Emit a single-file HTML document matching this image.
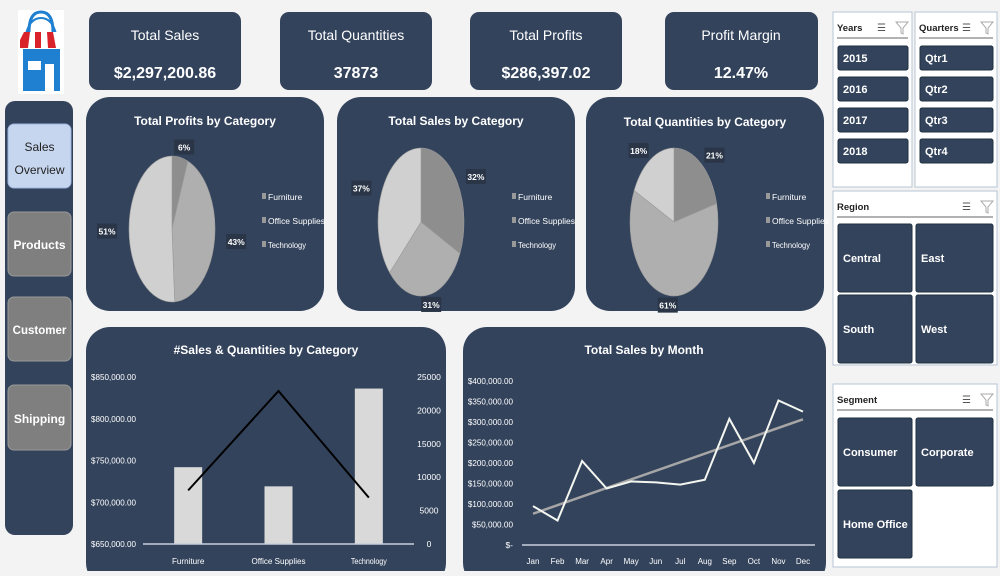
<!DOCTYPE html>
<html><head><meta charset="utf-8">
<style>
html,body{margin:0;padding:0;}
body{width:1000px;height:571px;overflow:hidden;background:#f3f3f3;font-family:"Liberation Sans",sans-serif;}
svg text{font-family:"Liberation Sans",sans-serif;}
</style></head>
<body>
<svg id="dash" width="1000" height="571" viewBox="0 0 1000 571" xmlns="http://www.w3.org/2000/svg">
  <rect x="0" y="0" width="1000" height="571" fill="#f3f3f3"/>
  <g>
    <rect x="18" y="10" width="46" height="84" fill="#ffffff"/>
    <path d="M29 32 Q29 12 41 12 Q53 12 53 32" fill="none" stroke="#1f7fd0" stroke-width="3"/>
    <path d="M26 34 Q30 18 41 18 Q52 18 56 34" fill="none" stroke="#1f7fd0" stroke-width="2"/>
    <rect x="23" y="49" width="37" height="42" fill="#1f7fd0"/>
    <rect x="28" y="61" width="13" height="9" fill="#ffffff"/>
    <rect x="45" y="64" width="9" height="27" fill="#ffffff"/>
    <path d="M21 40 L24 32 L60 32 L63 40 Z" fill="#ffffff"/>
    <path d="M20 40 L24 32 L30 32 L28 48 L20 48 Z M35 32 L41 32 L41 48 L35 48 Z M47 32 L53 32 L56 48 L48 48 Z" fill="#d9222a"/>
  </g>
  <rect x="5" y="101" width="68" height="434" rx="10" fill="#33435c"/>
  <g>
    <rect x="8" y="124" width="63" height="64" rx="6" fill="#c6d6ef" stroke="#9fb6dc"/>
    <text x="39.5" y="151" text-anchor="middle" font-size="12" fill="#222">Sales</text>
    <text x="39.5" y="174" text-anchor="middle" font-size="12" fill="#222">Overview</text>
  </g>
  <g>
    <rect x="8" y="212" width="63" height="64" rx="6" fill="#7f7f7f" stroke="#999"/>
    <text x="39.5" y="249" text-anchor="middle" font-size="12" font-weight="bold" fill="#fff">Products</text>
  </g>
  <g>
    <rect x="8" y="297" width="63" height="64" rx="6" fill="#7f7f7f" stroke="#999"/>
    <text x="39.5" y="334" text-anchor="middle" font-size="11.5" font-weight="bold" fill="#fff">Customer</text>
  </g>
  <g>
    <rect x="8" y="385" width="63" height="65" rx="6" fill="#7f7f7f" stroke="#999"/>
    <text x="39.5" y="423" text-anchor="middle" font-size="12" font-weight="bold" fill="#fff">Shipping</text>
  </g>
  <g>
    <rect x="89" y="12" width="152" height="78" rx="9" fill="#33435c"/>
    <text x="165" y="40" text-anchor="middle" font-size="14" fill="#fff">Total Sales</text>
    <text x="165" y="78" text-anchor="middle" font-size="16" font-weight="bold" fill="#fff">$2,297,200.86</text>
  </g>
  <g>
    <rect x="280" y="12" width="152" height="78" rx="9" fill="#33435c"/>
    <text x="356" y="40" text-anchor="middle" font-size="14" fill="#fff">Total Quantities</text>
    <text x="356" y="78" text-anchor="middle" font-size="16" font-weight="bold" fill="#fff">37873</text>
  </g>
  <g>
    <rect x="470" y="12" width="152" height="78" rx="9" fill="#33435c"/>
    <text x="546" y="40" text-anchor="middle" font-size="14" fill="#fff">Total Profits</text>
    <text x="546" y="78" text-anchor="middle" font-size="16" font-weight="bold" fill="#fff">$286,397.02</text>
  </g>
  <g>
    <rect x="665" y="12" width="153" height="78" rx="9" fill="#33435c"/>
    <text x="741" y="40" text-anchor="middle" font-size="14" fill="#fff">Profit Margin</text>
    <text x="741" y="78" text-anchor="middle" font-size="16" font-weight="bold" fill="#fff">12.47%</text>
  </g>
  <rect x="86" y="97" width="238" height="214" rx="24" fill="#33435c"/>
  <rect x="337" y="97" width="238" height="214" rx="24" fill="#33435c"/>
  <rect x="586" y="97" width="238" height="214" rx="24" fill="#33435c"/>
  <rect x="86" y="327" width="360" height="260" rx="24" fill="#33435c"/>
  <rect x="463" y="327" width="363" height="260" rx="24" fill="#33435c"/>
  <text x="205" y="125" text-anchor="middle" font-size="12" font-weight="bold" fill="#fff">Total Profits by Category</text>
  <text x="456" y="125" text-anchor="middle" font-size="12" font-weight="bold" fill="#fff">Total Sales by Category</text>
  <text x="705" y="126" text-anchor="middle" font-size="12" font-weight="bold" fill="#fff">Total Quantities by Category</text>
  <text x="266" y="354" text-anchor="middle" font-size="12" font-weight="bold" fill="#fff">#Sales &amp; Quantities by Category</text>
  <text x="644" y="354" text-anchor="middle" font-size="12" font-weight="bold" fill="#fff">Total Sales by Month</text>
  <g id="pies"></g>
  <g id="bar"></g>
  <g id="line"></g>
  <g id="slicers"></g>
</svg>
<script>
const NS="http://www.w3.org/2000/svg";
const categories=["Furniture","Office Supplies","Technology"];
const profitShare=[6,43,51];
const salesShare=[32,31,37];
const qtyShare=[21,61,18];
const catSales=[742000,719047,836154];
const catQty=[8028,22906,6939];
const salesTicks=[650000,700000,750000,800000,850000];
const salesTickLabels=["$650,000.00","$700,000.00","$750,000.00","$800,000.00","$850,000.00"];
const qtyTicks=[0,5000,10000,15000,20000,25000];
const months=["Jan","Feb","Mar","Apr","May","Jun","Jul","Aug","Sep","Oct","Nov","Dec"];
const monthSales=[94925,59751,205005,137762,155028,152718,147238,159044,307649,200322,352461,325293];
const monthTicks=[0,50000,100000,150000,200000,250000,300000,350000,400000];
const monthTickLabels=["$-","$50,000.00","$100,000.00","$150,000.00","$200,000.00","$250,000.00","$300,000.00","$350,000.00","$400,000.00"];
const sliceColors=["#8e8e8e","#afafaf","#d0d0d0"];

function el(tag,attrs,parent,txt){const e=document.createElementNS(NS,tag);for(const k in attrs)e.setAttribute(k,attrs[k]);if(txt!==undefined)e.textContent=txt;parent.appendChild(e);return e;}

const pies=document.getElementById('pies');
function drawPie(vals,cx,cy,rx,ry,legX,name){
  const g=el('g',{},pies);
  
  
  const tot=vals.reduce((a,b)=>a+b,0);
  let a0=0;
  vals.forEach((v,i)=>{
    const a1=a0+v/tot*2*Math.PI;
    const x0=cx+rx*Math.sin(a0),y0=cy-ry*Math.cos(a0),x1=cx+rx*Math.sin(a1),y1=cy-ry*Math.cos(a1);
    const large=(a1-a0)>Math.PI?1:0;
    const p=el('path',{d:`M${cx} ${cy} L${x0} ${y0} A${rx} ${ry} 0 ${large} 1 ${x1} ${y1} Z`,fill:sliceColors[i],stroke:'#9a9a9a','stroke-width':0.6},g);
    
    
    const am=(a0+a1)/2;
    const lx=cx+(rx+22)*Math.sin(am),ly=cy-(ry+10)*Math.cos(am);
    const lb=el('g',{},g);
    
    
    el('rect',{x:lx-10,y:ly-8,width:20,height:15,fill:'#2a3547'},lb);
    el('text',{x:lx,y:ly+3,'text-anchor':'middle','font-size':8.5,'font-weight':'bold',fill:'#fff'},lb,v+'%');
    a0=a1;
  });
  categories.forEach((c,i)=>{
    const lg=el('g',{},g);
    
    
    el('rect',{x:legX,y:193+i*24,width:4,height:6,fill:'#999'},lg);
    el('text',{x:legX+6,y:200+i*24,'font-size':8,fill:'#fff',textLength:c.length*3.8,lengthAdjust:'spacingAndGlyphs'},lg,c);
  });
}
drawPie(profitShare,172,229,43,73,262,'profits-pie');
drawPie(salesShare,421,222,43,74,512,'sales-pie');
drawPie(qtyShare,674,222,44,74,766,'quantities-pie');

const bar=document.getElementById('bar');
const bx0=143,bx1=414,by0=544,by1=377;
const ys=v=>by0-(v-650000)/200000*(by0-by1);
const yq=v=>by0-v/25000*(by0-by1);
const xc=i=>bx0+(bx1-bx0)*(i+0.5)/3;
salesTicks.forEach((t,i)=>{
  const tx=el('text',{x:136,y:ys(t)+3,'text-anchor':'end','font-size':8.5,fill:'#fff',textLength:45,lengthAdjust:'spacingAndGlyphs'},bar,salesTickLabels[i]);
  
  
});
qtyTicks.forEach(t=>{
  const tx=el('text',{x:429,y:yq(t)+3,'text-anchor':'middle','font-size':8.5,fill:'#fff'},bar,String(t));
  
  
});
catSales.forEach((v,i)=>{
  const r=el('rect',{x:xc(i)-14,y:ys(v),width:28,height:by0-ys(v),fill:'#d9d9d9'},bar);
  
  
  const tx=el('text',{x:xc(i),y:564,'text-anchor':'middle','font-size':8,fill:'#fff',textLength:categories[i].length*3.6,lengthAdjust:'spacingAndGlyphs'},bar,categories[i]);
  
  
});
const ax=el('line',{x1:bx0,x2:bx1,y1:by0,y2:by0,stroke:'#c8d0dc','stroke-width':1.5},bar);


const ql=el('polyline',{points:catQty.map((v,i)=>xc(i)+','+yq(v)).join(' '),fill:'none',stroke:'#000','stroke-width':2},bar);



const line=document.getElementById('line');
const lx0=522,lx1=815,ly0=545,ly1=381;
const ly=v=>ly0-v/400000*(ly0-ly1);
const lxm=i=>533+i*(803-533)/11;
monthTicks.forEach((t,i)=>{
  const tx=el('text',{x:513,y:ly(t)+3,'text-anchor':'end','font-size':8.5,fill:'#fff'},line,monthTickLabels[i]);
  if(i>0){tx.setAttribute('textLength',monthTickLabels[i].length*4.1);tx.setAttribute('lengthAdjust','spacingAndGlyphs');}
  
  
});
months.forEach((m,i)=>{
  const tx=el('text',{x:lxm(i),y:564,'text-anchor':'middle','font-size':8,fill:'#fff'},line,m);
  
  
});
const lax=el('line',{x1:lx0,x2:lx1,y1:ly0,y2:ly0,stroke:'#c8d0dc','stroke-width':1.5},line);


const n=monthSales.length;let sx=0,sy=0,sxy=0,sxx=0;
monthSales.forEach((v,i)=>{sx+=i;sy+=v;sxy+=i*v;sxx+=i*i;});
const slope=(n*sxy-sx*sy)/(n*sxx-sx*sx),icpt=(sy-slope*sx)/n;
const tl=el('line',{x1:lxm(0),y1:ly(icpt),x2:lxm(n-1),y2:ly(icpt+slope*(n-1)),stroke:'#a6a6a6','stroke-width':2.5},line);


const ms=el('polyline',{points:monthSales.map((v,i)=>lxm(i)+','+ly(v)).join(' '),fill:'none',stroke:'#f4f6f0','stroke-width':2},line);



const sl=document.getElementById('slicers');
function slicer(name,title,x,y,w,h){
  const g=el('g',{},sl);
  
  
  el('rect',{x:x,y:y,width:w,height:h,fill:'#ffffff',stroke:'#b8c4d4','stroke-width':1},g);
  el('text',{x:x+4,y:y+19,'font-size':9.5,'font-weight':'bold',fill:'#222'},g,title);
  el('line',{x1:x+4,x2:x+w-4,y1:y+26,y2:y+26,stroke:'#999','stroke-width':1.5},g);
  const ic=el('text',{x:x+w-35,y:y+19,'font-size':10,fill:'#555'},g,'☰');
  
  
  const f=el('path',{d:`M${x+w-16} ${y+10} h12 l-5 6 v6 l-2 -1 v-5 z`,fill:'none',stroke:'#aaa'},g);
  
  
  return g;
}
function btn(g,label,x,y,w,h){
  const b=el('g',{},g);
  
  
  el('rect',{x:x,y:y,width:w,height:h,rx:2,fill:'#33435c',stroke:'#22303f'},b);
  el('text',{x:x+5,y:y+h/2+4,'font-size':11,'font-weight':'bold',fill:'#fff'},b,label);
}
const years=["2015","2016","2017","2018"],qtrs=["Qtr1","Qtr2","Qtr3","Qtr4"];
const gy=slicer('years-slicer','Years',833,12,79,175);
years.forEach((t,i)=>btn(gy,t,838,46+i*31,70,24));
const gq=slicer('quarters-slicer','Quarters',915,12,82,175);
qtrs.forEach((t,i)=>btn(gq,t,920,46+i*31,73,24));
const gr=slicer('region-slicer','Region',833,191,164,174);
btn(gr,'Central',838,224,74,68);btn(gr,'East',916,224,77,68);
btn(gr,'South',838,295,74,68);btn(gr,'West',916,295,77,68);
const gs=slicer('segment-slicer','Segment',833,384,164,183);
btn(gs,'Consumer',838,418,74,68);btn(gs,'Corporate',916,418,77,68);
btn(gs,'Home Office',838,490,74,68);
</script>
</body></html>
